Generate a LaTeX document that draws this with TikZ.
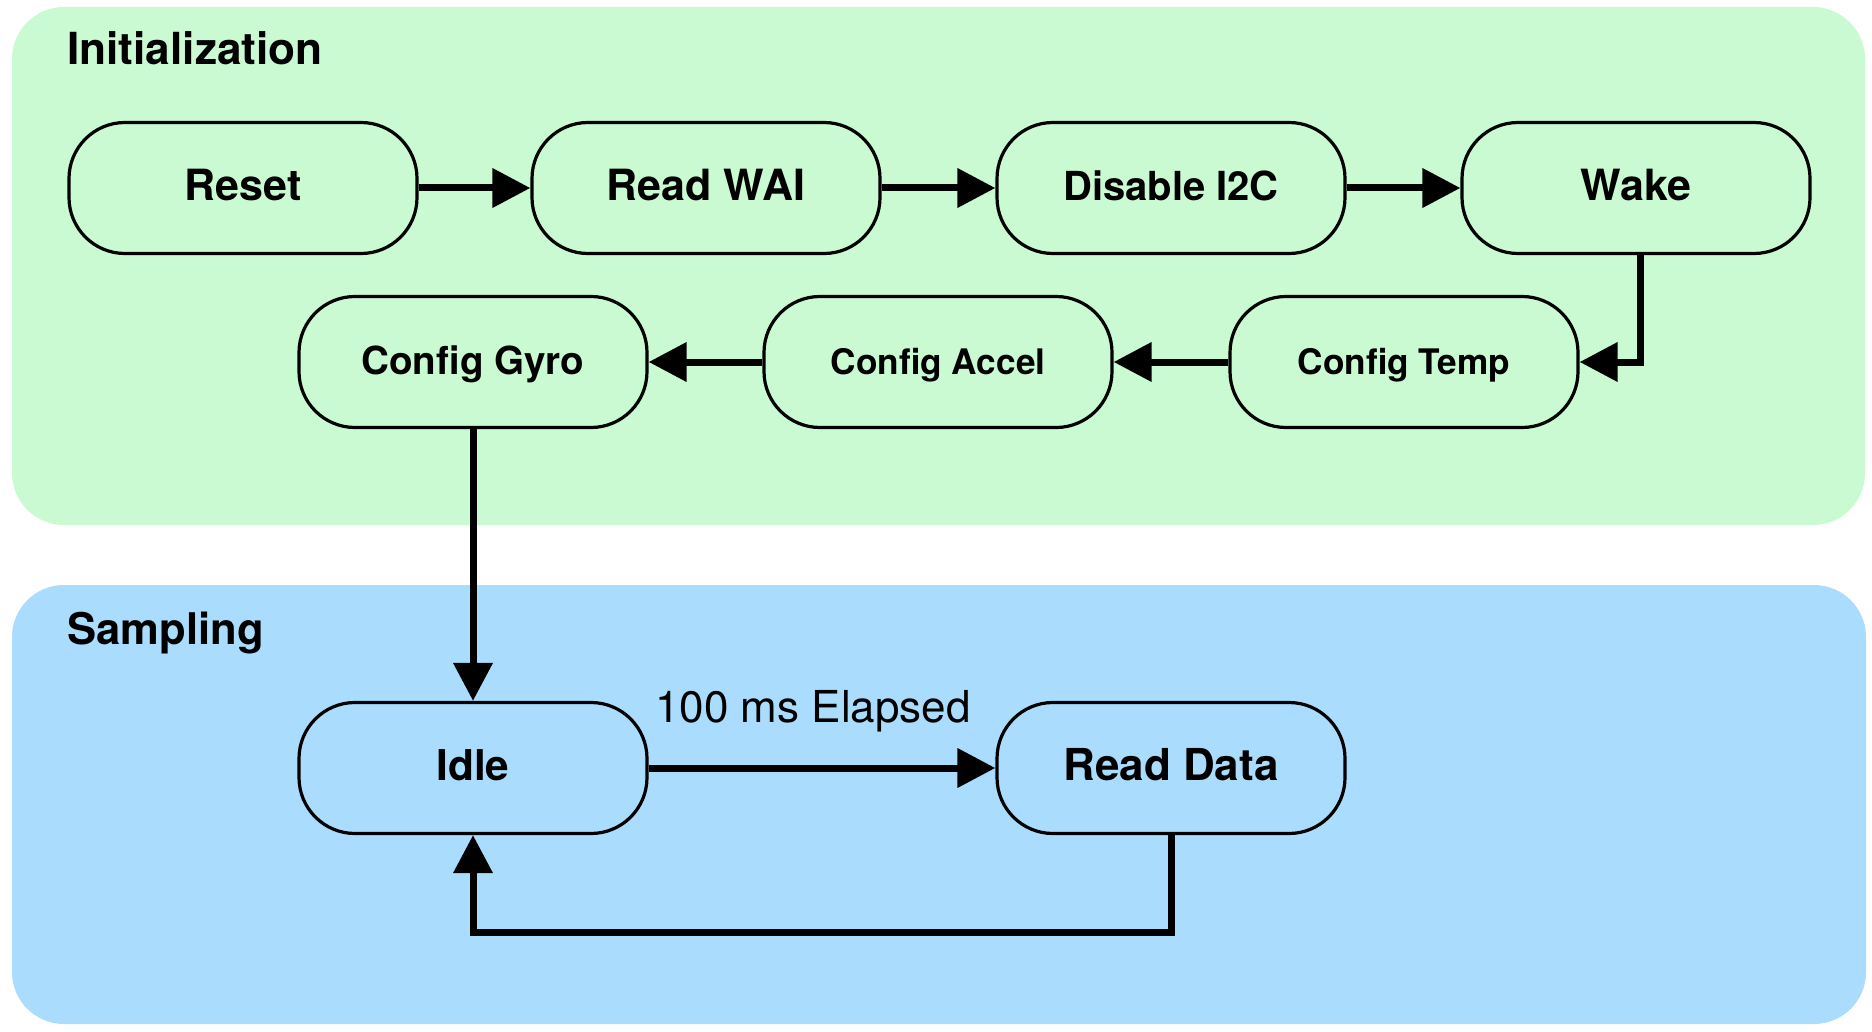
\documentclass[tikz,border=0pt]{standalone}
\usepackage{fontspec}
\setmainfont{TeX Gyre Heros}
\usetikzlibrary{arrows.meta,calc}
\definecolor{initbg}{RGB}{201,250,210}
\definecolor{sampbg}{RGB}{170,220,254}
\begin{document}
\begin{tikzpicture}[x=0.5pt,y=-0.5pt,
  state/.style={draw=black, line width=1.6pt, rounded corners=28pt,
    minimum width=174pt, minimum height=65.5pt, inner sep=0pt,
    text height=15pt, text depth=2.4pt,
    font=\bfseries\fontsize{21.5pt}{24pt}\selectfont},
  smallstate/.style={font=\bfseries\fontsize{17.6pt}{20pt}\selectfont},
  flow/.style={line width=3.5pt, -{Triangle[length=19pt,width=19pt]}},
  panel/.style={rounded corners=26pt, draw=none},
  ptitle/.style={anchor=base west, inner sep=0pt}]

\useasboundingbox (0,0) rectangle (1872,1032);

% panels
\fill[initbg, panel] (12,7) rectangle (1865,525);
\fill[sampbg, panel] (12,585) rectangle (1866,1024);
\node[ptitle, font=\bfseries\fontsize{22.1pt}{26pt}\selectfont] (tinit) at (67,65) {Initialization};
\node[ptitle, font=\bfseries\fontsize{21.8pt}{26pt}\selectfont] (tsamp) at (67,644) {Sampling};

% row 1
\node[state, fill=initbg] (reset) at (243,188) {Reset};
\node[state, fill=initbg] (wai) at (706,188) {Read WAI};
\node[state, fill=initbg, font=\bfseries\fontsize{20pt}{23pt}\selectfont] (dis) at (1171,188) {Disable I2C};
\node[state, fill=initbg] (wake) at (1636,188) {Wake};

% row 2
\node[state, fill=initbg, font=\bfseries\fontsize{19.3pt}{22pt}\selectfont] (gyro) at (473,362) {Config Gyro};
\node[state, fill=initbg, smallstate] (accel) at (938,362) {Config Accel};
\node[state, fill=initbg, smallstate] (temp) at (1404,362) {Config Temp};

% row 3
\node[state, fill=sampbg, font=\bfseries\fontsize{21.2pt}{24pt}\selectfont] (idle) at (473,768) {Idle};
\node[state, fill=sampbg, font=\bfseries\fontsize{22pt}{25pt}\selectfont] (rd) at (1171,768) {Read Data};

% connectors
\draw[flow] (reset) -- (wai);
\draw[flow] (wai) -- (dis);
\draw[flow] (dis) -- (wake);
\draw[flow] ([xshift=2pt]wake.south) |- (temp.east);
\draw[flow] (temp) -- (accel);
\draw[flow] (accel) -- (gyro);
\draw[flow] (gyro) -- (idle);
\draw[flow] (idle) -- (rd);
\coordinate (fb) at (idle.south |- 0,932);
\draw[flow] (rd.south) |- (fb) -- (idle.south);

\node[anchor=base, inner sep=0pt, font=\fontsize{22pt}{26pt}\selectfont] (lbl) at (813,722) {100 ms Elapsed};
\end{tikzpicture}
\end{document}
